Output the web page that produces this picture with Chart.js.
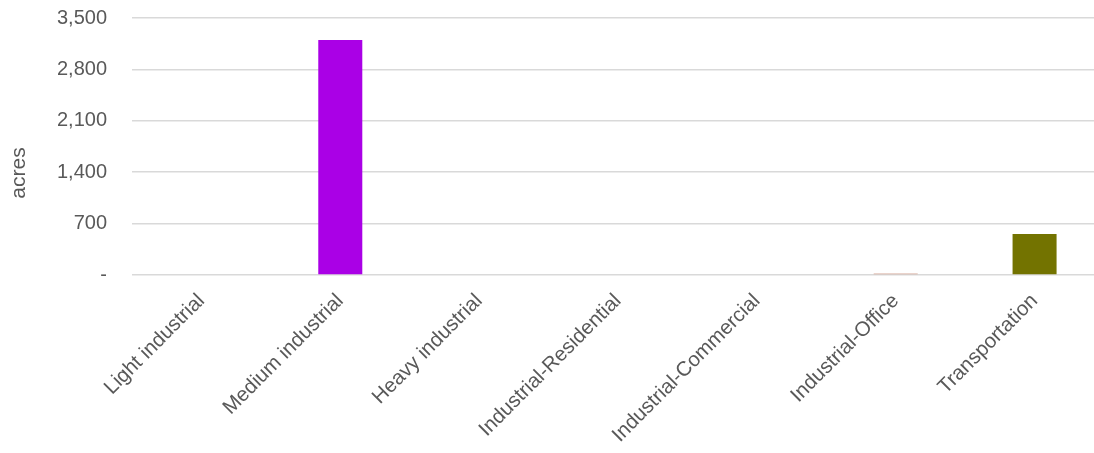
<!DOCTYPE html>
<html>
<head>
<meta charset="utf-8">
<script src="https://cdn.jsdelivr.net/npm/chart.js@4/dist/chart.umd.min.js"></script>
<style>
  html, body { margin: 0; padding: 0; background: #ffffff; overflow: hidden; }
  #wrap { position: relative; width: 1104px; height: 453px; }
</style>
</head>
<body>
<div id="wrap"><canvas id="chart"></canvas></div>
<script>
// Land use categories and area in acres
const categories = [
  'Light industrial',
  'Medium industrial',
  'Heavy industrial',
  'Industrial-Residential',
  'Industrial-Commercial',
  'Industrial-Office',
  'Transportation'
];
const acres = [0, 3200, 0, 0, 0, 20, 560];
const barColors = ['#5b9bd5', '#aa00e6', '#a5a5a5', '#ffc000', '#4472c4', '#d6a898', '#737300'];
const yTicks = [0, 700, 1400, 2100, 2800, 3500];
const yTitle = 'acres';

const textColor = '#595959';
const fontFamily = '"Liberation Sans", Arial, sans-serif';

// Vertical axis title drawn beside the value labels
const axisTitle = {
  id: 'axisTitle',
  afterDraw(chart) {
    const ctx = chart.ctx;
    ctx.save();
    ctx.translate(25, 173);
    ctx.rotate(-Math.PI / 2);
    ctx.fillStyle = textColor;
    ctx.font = '21px ' + fontFamily;
    ctx.textAlign = 'center';
    ctx.textBaseline = 'alphabetic';
    ctx.fillText(yTitle, 0, 0);
    ctx.restore();
  }
};

new Chart(document.getElementById('chart'), {
  type: 'bar',
  data: {
    labels: categories,
    datasets: [{
      data: acres,
      backgroundColor: barColors,
      borderWidth: 0,
      categoryPercentage: 1,
      barPercentage: 0.317
    }]
  },
  options: {
    responsive: true,
    maintainAspectRatio: false,
    animation: false,
    layout: { padding: { top: 18, right: 0, bottom: 0, left: 0 } },
    plugins: {
      legend: { display: false },
      tooltip: { enabled: false }
    },
    scales: {
      x: {
        grid: { display: false, drawTicks: false },
        border: { display: false },
        ticks: {
          color: textColor,
          font: { family: fontFamily, size: 20.5 },
          minRotation: 45,
          maxRotation: 45,
          padding: 14,
          autoSkip: false
        },
        afterFit: (scale) => { scale.height = 178; }
      },
      y: {
        min: 0,
        max: 3500,
        afterBuildTicks: (scale) => { scale.ticks = yTicks.map(v => ({ value: v })); },
        grid: {
          color: '#d9d9d9',
          lineWidth: 1.5,
          drawTicks: true,
          tickLength: 23,
          tickColor: 'rgba(0,0,0,0)'
        },
        border: { display: false },
        ticks: {
          color: textColor,
          font: { family: fontFamily, size: 20 },
          padding: 2,
          callback: (v) => v === 0 ? '-' : v.toLocaleString('en-US')
        },
        afterFit: (scale) => { scale.width = 132; }
      }
    }
  },
  plugins: [axisTitle]
});
</script>
</body>
</html>
